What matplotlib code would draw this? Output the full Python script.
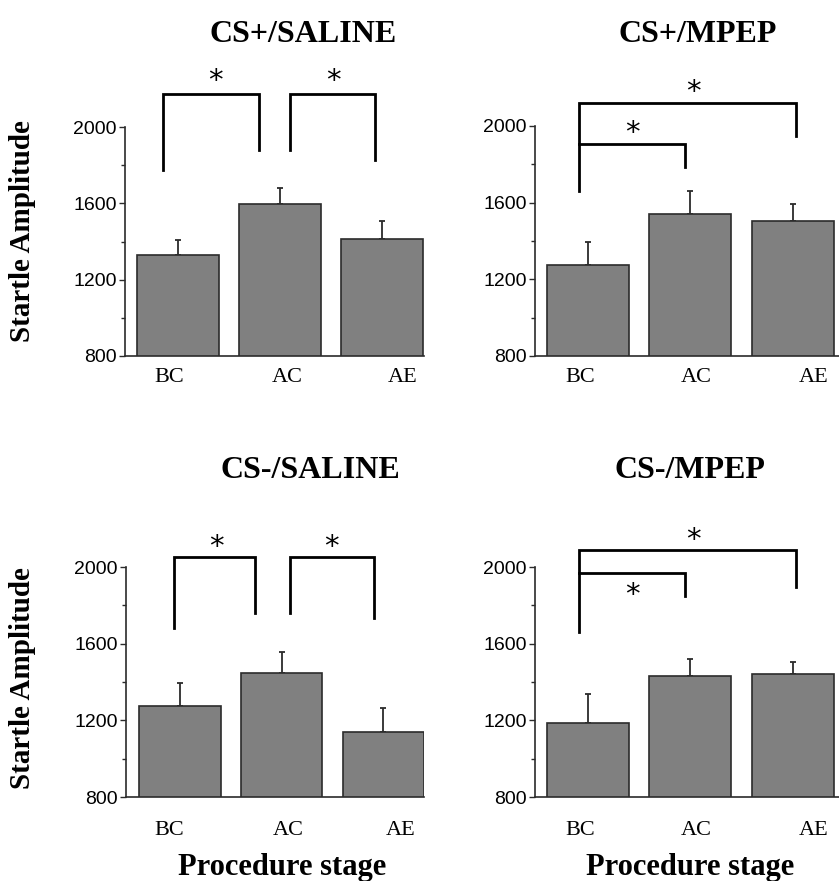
import matplotlib
matplotlib.use("Agg")
import matplotlib.pyplot as plt

# data
stages = ["BC", "AC", "AE"]
titles = ["CS+/SALINE", "CS+/MPEP", "CS-/SALINE", "CS-/MPEP"]
means = [
    [1329, 1596, 1413],   # CS+/SALINE
    [1275, 1541, 1504],   # CS+/MPEP
    [1275, 1447, 1139],   # CS-/SALINE
    [1186, 1431, 1441],   # CS-/MPEP
]
sems = [
    [79, 84, 94],
    [120, 120, 89],
    [120, 110, 125],
    [151, 89, 63],
]
y_ticks = [800, 1200, 1600, 2000]
y_minor = [1000, 1400, 1800]

# brackets: x1, x2, top, left leg end, right leg end (None = no leg)
brackets = [
    [(-0.15, 0.79, 2173, 1775, 1879), (1.10, 1.93, 2173, 1879, 1827)],
    [(-0.09, 2.03, 2120, 1661, 1948), (-0.09, 0.95, 1906, None, 1786)],
    [(-0.06, 0.74, 2052, 1682, 1760), (1.08, 1.91, 2052, 1760, 1734)],
    [(-0.09, 2.03, 2089, 1661, 1896), (-0.09, 0.95, 1969, None, 1849)],
]
stars = [
    [(0.37, 2240), (1.52, 2240)],
    [(1.03, 2175), (0.43, 1966)],
    [(0.36, 2102), (1.49, 2102)],
    [(1.03, 2143), (0.43, 1852)],
]

W, H = 839, 881
fig = plt.figure(figsize=(W / 100, H / 100), dpi=100)

# axes boxes in pixels: left, right, top, bottom
boxes = [(125, 424, 127, 356), (535, 839, 126, 356),
         (126, 424, 567, 797), (535, 839, 567, 797)]
xlims = [(-0.52, 2.41), (-0.517, 2.45), (-0.53, 2.40), (-0.517, 2.45)]
title_pos = [(303, 35), (698, 35), (310, 470), (690, 470)]
label_pos = [[-0.09, 1.07, 2.2], [-0.08, 1.06, 2.2], [-0.1, 1.07, 2.17], [-0.08, 1.06, 2.2]]
label_pad = [9, 9, 17, 17]

serif = "Liberation Serif"
dark = "#2b2b2b"

for i in range(4):
    l, r, t, b = boxes[i]
    ax = fig.add_axes([l / W, 1 - b / H, (r - l) / W, (b - t) / H])
    x = range(len(stages))
    ax.bar(x, means[i], width=0.8, bottom=0, color="#808080",
           edgecolor=dark, linewidth=1.2, zorder=2)
    ax.errorbar(x, means[i], yerr=[[0, 0, 0], sems[i]], fmt="none",
                ecolor=dark, elinewidth=1.3, capsize=2.5, capthick=1.3, zorder=1)
    ax.set_ylim(800, 2000)
    ax.set_xlim(*xlims[i])
    ax.set_yticks(y_ticks)
    ax.set_yticks(y_minor, minor=True)
    ax.set_yticklabels([str(v) for v in y_ticks])
    ax.tick_params(axis="y", which="major", direction="out", length=4, width=1, pad=2,
                   colors=dark, labelcolor="black", labelsize=14,
                   labelfontfamily="Liberation Sans")
    ax.tick_params(axis="y", which="minor", direction="out", length=3, width=1, colors=dark)
    ax.set_xticks(label_pos[i])
    ax.set_xticklabels(stages)
    ax.tick_params(axis="x", length=0, pad=label_pad[i], labelsize=16,
                   labelfontfamily=serif)
    for s in ["top", "right"]:
        ax.spines[s].set_visible(False)
    for s in ["left", "bottom"]:
        ax.spines[s].set_color(dark)
        ax.spines[s].set_linewidth(1.2)

    for x1, x2, top, yl, yr in brackets[i]:
        xs, ys = [x1, x2], [top, top]
        if yl is not None:
            xs, ys = [x1] + xs, [yl] + ys
        if yr is not None:
            xs, ys = xs + [x2], ys + [yr]
        ax.plot(xs, ys, color="black", linewidth=2, clip_on=False,
                solid_joinstyle="miter", zorder=3)
    for sx, sy in stars[i]:
        ax.text(sx, sy, "*", ha="center", va="center", fontsize=21,
                fontname="DejaVu Sans", clip_on=False)

    tx, ty = title_pos[i]
    fig.text(tx / W, 1 - ty / H, titles[i], ha="center", va="center",
             fontname=serif, fontweight="bold", fontsize=23)

for yc in [231, 678]:
    fig.text(23 / W, 1 - yc / H, "Startle Amplitude", rotation=90, ha="center",
             va="center", fontname=serif, fontweight="bold", fontsize=21)
for xc in [282, 690]:
    fig.text(xc / W, 1 - 867 / H, "Procedure stage", ha="center", va="center",
             fontname=serif, fontweight="bold", fontsize=22)

fig.savefig("out.png", dpi=100, facecolor="white")
